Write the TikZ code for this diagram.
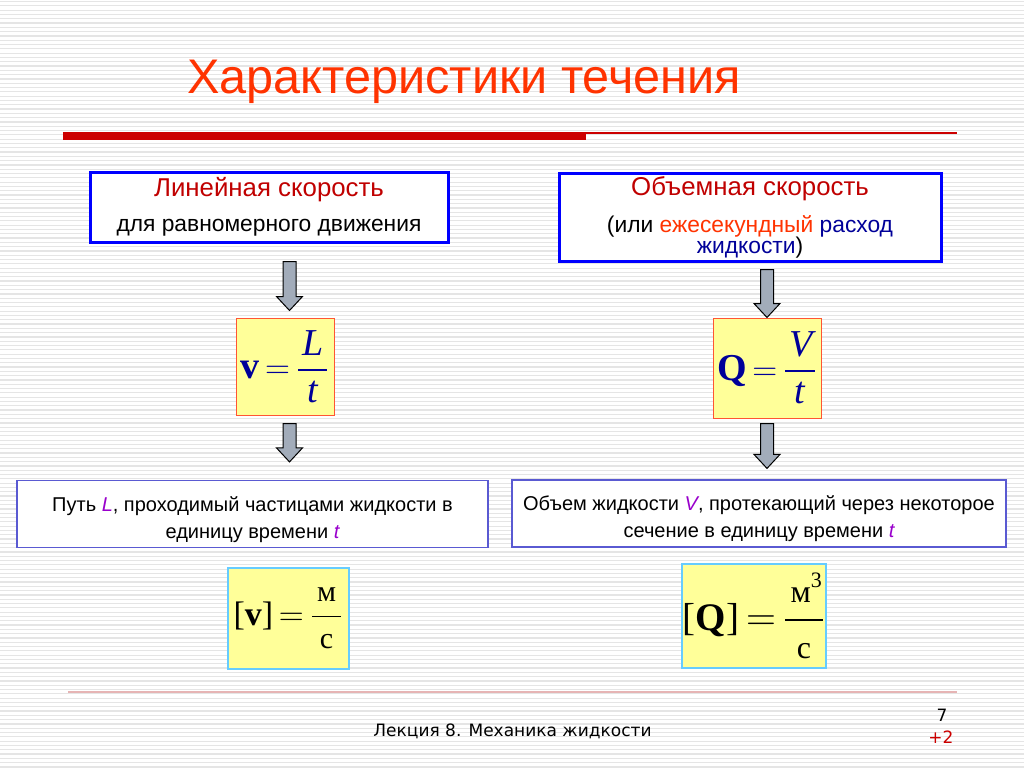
\documentclass[tikz,border=0pt]{standalone}
\usepackage{amsmath}
\usepackage{fontspec}
\setmainfont{Liberation Sans}
\newfontfamily\timesf{Liberation Serif}
\newfontfamily\footf{DejaVu Sans}
\usetikzlibrary{calc}

\definecolor{titlered}{HTML}{FF3300}
\definecolor{headred}{HTML}{C00000}
\definecolor{barred}{HTML}{CC0000}
\definecolor{navy}{HTML}{000099}
\definecolor{boxblue}{HTML}{0000FF}
\definecolor{lavblue}{HTML}{5A5AD2}
\definecolor{violet}{HTML}{9900CC}
\definecolor{paleyellow}{HTML}{FFFF99}
\definecolor{formred}{HTML}{FF5533}
\definecolor{unitblue}{HTML}{66CCFF}
\definecolor{arrowgray}{HTML}{A2ACBA}
\definecolor{pinkline}{HTML}{E6B4B4}

\newcommand\garrow[2]{%
  \filldraw[arrowfill] let \p1=#1, \p2=#2 in
    (\x1-3.25pt,\y1) -- (\x1-3.25pt,\y2+7pt) -- (\x1-6.5pt,\y2+7pt) -- (\x1,\y2)
    -- (\x1+6.5pt,\y2+7pt) -- (\x1+3.25pt,\y2+7pt) -- (\x1+3.25pt,\y1) -- cycle;}
\newcommand\tightlines{\lineskiplimit-20pt\relax\lineskip0pt\relax}

\begin{document}
\begin{tikzpicture}[x=0.5pt,y=-0.5pt,
    stripe/.style={draw=gray!20, line width=0.6pt},
    headbox/.style={draw=boxblue, line width=1.5pt, fill=white, inner sep=0pt, align=center},
    formbox/.style={draw=formred, line width=0.5pt, fill=paleyellow, inner sep=0pt},
    textbox/.style={draw=lavblue, line width=0.6pt, fill=white, inner sep=0pt, align=center,
      font=\fontsize{10}{13.5}\selectfont},
    unitbox/.style={draw=unitblue, line width=0.9pt, fill=paleyellow, inner sep=0pt},
    arrowfill/.style={fill=arrowgray, draw=black, line width=0.5pt}]
    \useasboundingbox (0,0) rectangle (1024,767);
    \fill[white] (0,0) rectangle (1024,767);
    \foreach \y in {1.5,5.8,...,767} \draw[stripe] (0,\y) -- (1024,\y);

    % title and rule
    \node[text=titlered, font=\fontsize{24.3}{28}\selectfont] (title) at (464,82) {Характеристики течения};
    \fill[barred] (63,132) rectangle (586,140);
    \draw[barred, line width=0.6pt] (586,133) -- (957,133);

    % upper boxes
    \node[headbox, minimum width=179pt, minimum height=35pt, font=\fontsize{11.4}{17.5}\selectfont] (lin) at (269,207)
      {\textcolor{headred}{\fontsize{12.9}{14}\selectfont Линейная скорость}\\ для равномерного движения};
    \node[headbox, minimum width=191pt, minimum height=44pt,
      font=\fontsize{11.4}{10.5}\selectfont\tightlines] (vol) at (750,217)
      {\textcolor{headred}{\fontsize{12.9}{14}\selectfont Объемная скорость}\\[8pt]
       (или \textcolor{titlered}{ежесекундный} \textcolor{navy}{расход}\\ \textcolor{navy}{жидкости})};

    % formulas
    \node[formbox, minimum width=49pt, minimum height=48.5pt, text=navy, font=\timesf\fontsize{19}{22}\selectfont] (vf) at (285,366.5)
      {$\text{\bfseries v}\,{=}\,\genfrac{}{}{1pt}{0}{\text{\itshape\hspace{2pt}L\hspace{2pt}}}{\text{\itshape t}}$};
    \node[formbox, minimum width=54pt, minimum height=50pt, text=navy, font=\timesf\fontsize{19}{22}\selectfont] (qf) at (767,368)
      {$\text{\bfseries Q}\,{=}\,\genfrac{}{}{1pt}{0}{\text{\itshape\hspace{2pt}V\hspace{1pt}}}{\text{\itshape t}}$};

    % explanations
    \node[textbox, minimum width=235.5pt, minimum height=33.5pt] (pathbox) at (252.5,514)
      {\rule{0pt}{13pt}Путь \textcolor{violet}{\itshape L}, проходимый частицами жидкости в\\ единицу времени \textcolor{violet}{\itshape t}};
    \node[textbox, minimum width=247pt, minimum height=33.5pt] (volbox) at (759,513.5)
      {\rule{0pt}{13pt}Объем жидкости \textcolor{violet}{\itshape V}, протекающий через некоторое\\ сечение в единицу времени \textcolor{violet}{\itshape t}};

    % units
    \node[unitbox, minimum width=60.5pt, minimum height=50.5pt, font=\timesf\fontsize{17}{20}\selectfont] (vu) at (288.5,618.5)
      {$\text{[\bfseries v\mdseries]}\,{=}\,\genfrac{}{}{0.8pt}{0}{\text{\fontsize{15}{15}\selectfont\,м\,}}{\text{\fontsize{15}{15}\selectfont с}}$};
    \node[unitbox, minimum width=72pt, minimum height=52pt, font=\timesf\fontsize{19.5}{24}\selectfont] (qu) at (754,616)
      {$\text{[\bfseries Q\mdseries]}\,{=}\,\genfrac{}{}{0.8pt}{0}{\text{\fontsize{16}{16}\selectfont\,м}^{\text{\fontsize{11}{11}\selectfont 3}}}{\text{\fontsize{16}{16}\selectfont с}}$};

    % arrows
    \garrow{($(vf.north)+(4.5,-56)$)}{($(vf.north)+(4.5,-7)$)}
    \garrow{($(vf.south)+(4.5,8)$)}{($(pathbox.north)+(4.5,-18)$)}
    \garrow{($(qf.north)+(0,-48)$)}{(qf.north)}
    \garrow{($(qf.south)+(0,5)$)}{($(volbox.north)+(0,-11)$)}

    % footer
    \draw[pinkline, line width=0.9pt] (68,692) -- (957,692);
    \node[font=\footf\fontsize{8.5}{10}\selectfont] (lect) at (512.5,731) {Лекция 8. Механика жидкости};
    \node[font=\footf\fontsize{8.5}{10}\selectfont] (page) at (942,715) {7};
    \node[font=\footf\fontsize{8.5}{10}\selectfont, text=barred] (plus) at (941,737) {+2};
\end{tikzpicture}
\end{document}
